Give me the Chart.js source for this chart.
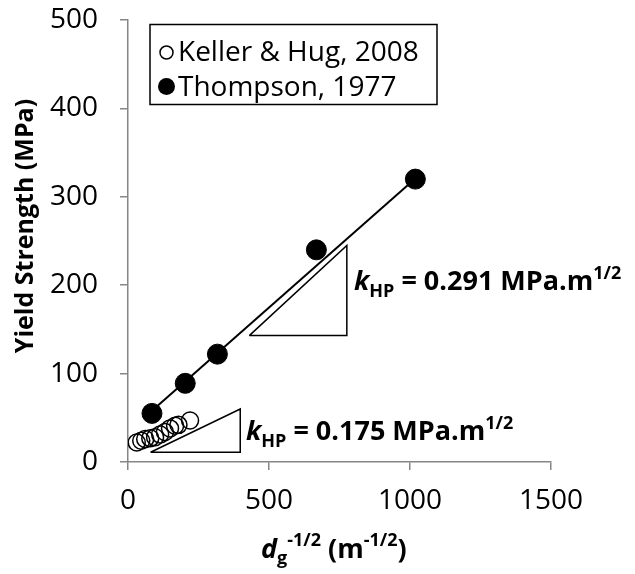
<!DOCTYPE html>
<html><head><meta charset="utf-8">
<script src="https://cdn.jsdelivr.net/npm/chart.js@4.4.1/dist/chart.umd.min.js"></script>
<style>html,body{margin:0;padding:0;background:#fff}#wrap{width:635px;height:574px;position:relative}</style>
</head><body><div id="wrap"><canvas id="c" width="635" height="574"></canvas></div>
<script>
// ---- data ----
const kellerLabel = 'Keller & Hug, 2008';
const kellerX = [31, 47, 61, 79, 96, 114, 131, 149, 167, 179, 220];
const kellerY = [22, 24, 26, 27, 28, 31, 34, 38, 41, 42, 47];
const thompsonLabel = 'Thompson, 1977';
const thompsonX = [85, 203, 317, 668, 1019];
const thompsonY = [55, 89, 122, 240, 320];
const fitX = [85, 1020];
const fitY = [58, 321];
const triUpperX = [430, 776, 776, 430];
const triUpperY = [143, 143, 245, 143];
const triLowerX = [80, 398, 398, 80];
const triLowerY = [11, 11, 60, 11];
const xTicks = [0, 500, 1000, 1500];
const yTicks = [0, 100, 200, 300, 400, 500];
const kUpperText = '0.291';
const kLowerText = '0.175';

const FONT = "'Open Sans', sans-serif";
const pts = (xs, ys) => xs.map((x, i) => ({x, y: ys[i]}));

function drawRich(ctx, x, y, segs) {
  let cx = x;
  for (const s of segs) {
    ctx.font = (s.style || 'bold') + ' ' + s.size + 'px ' + FONT;
    ctx.fillText(s.t, cx, y + (s.dy || 0));
    cx += ctx.measureText(s.t).width;
  }
}

const overlay = {
  id: 'overlay',
  afterDraw(chart) {
    const ctx = chart.ctx;
    ctx.save();
    ctx.fillStyle = '#000';
    ctx.textBaseline = 'alphabetic';
    ctx.textAlign = 'left';
    // legend box
    ctx.strokeStyle = '#000';
    ctx.lineWidth = 1.5;
    ctx.strokeRect(150, 24.5, 287, 80);
    ctx.beginPath(); ctx.arc(166.5, 52.5, 6.5, 0, Math.PI * 2); ctx.lineWidth = 1.5; ctx.stroke();
    ctx.beginPath(); ctx.arc(166.5, 86.5, 8.5, 0, Math.PI * 2); ctx.fill();
    ctx.font = '28px ' + FONT;
    ctx.fillText(chart.data.datasets[1].label, 178, 61);
    ctx.fillText(chart.data.datasets[0].label, 178, 96);
    // annotations
    drawRich(ctx, 354, 290, [
      {t: 'k', style: 'italic bold', size: 27},
      {t: 'HP', size: 18, dy: 7},
      {t: ' = ' + kUpperText + ' MPa.m', size: 27},
      {t: '1/2', size: 18, dy: -11}
    ]);
    drawRich(ctx, 246, 440, [
      {t: 'k', style: 'italic bold', size: 27},
      {t: 'HP', size: 18, dy: 7},
      {t: ' = ' + kLowerText + ' MPa.m', size: 27},
      {t: '1/2', size: 18, dy: -11}
    ]);
    // x title
    drawRich(ctx, 261, 558, [
      {t: 'd', style: 'italic bold', size: 27},
      {t: 'g', size: 18, dy: 6},
      {t: '-1/2', size: 18, dy: -12},
      {t: ' (m', size: 27},
      {t: '-1/2', size: 18, dy: -12},
      {t: ')', size: 27}
    ]);
    // y title
    ctx.translate(33, 226);
    ctx.rotate(-Math.PI / 2);
    ctx.textAlign = 'center';
    ctx.font = 'bold 25px ' + FONT;
    ctx.fillText('Yield Strength (MPa)', 0, 0);
    ctx.restore();
  }
};

new Chart(document.getElementById('c'), {
  type: 'scatter',
  data: {
    datasets: [
      {label: thompsonLabel, data: pts(thompsonX, thompsonY), pointRadius: 10, pointBackgroundColor: '#000', pointBorderColor: '#000', pointBorderWidth: 1, showLine: false},
      {label: kellerLabel, data: pts(kellerX, kellerY), pointRadius: 8.5, pointBackgroundColor: 'rgba(0,0,0,0)', pointBorderColor: '#000', pointBorderWidth: 1.5, showLine: false},
      {label: 'fit', data: pts(fitX, fitY), showLine: true, borderColor: '#000', borderWidth: 2, pointRadius: 0},
      {label: 'tri1', data: pts(triUpperX, triUpperY), showLine: true, borderColor: '#000', borderWidth: 1.5, pointRadius: 0, tension: 0},
      {label: 'tri2', data: pts(triLowerX, triLowerY), showLine: true, borderColor: '#000', borderWidth: 1.5, pointRadius: 0, tension: 0}
    ]
  },
  options: {
    responsive: false,
    animation: false,
    devicePixelRatio: 1,
    layout: {padding: {left: 0, right: 84, top: 20, bottom: 0}},
    plugins: {legend: {display: false}, tooltip: {enabled: false}},
    scales: {
      x: {
        type: 'linear', min: 0, max: 1500,
        afterBuildTicks: s => { s.ticks = xTicks.map(v => ({value: v})); },
        afterFit: s => { s.height = 112; s.paddingLeft = 0; s.paddingRight = 0; },
        ticks: {color: '#000', font: {family: FONT, size: 28}, padding: 14, callback: v => String(v)},
        grid: {display: true, drawOnChartArea: false, drawTicks: true, tickLength: 8, color: '#868686', lineWidth: 1.5},
        border: {display: true, color: '#868686', width: 1.5}
      },
      y: {
        type: 'linear', min: 0, max: 500,
        afterBuildTicks: s => { s.ticks = yTicks.map(v => ({value: v})); },
        afterFit: s => { s.width = 128; s.paddingTop = 0; s.paddingBottom = 0; },
        ticks: {color: '#000', font: {family: FONT, size: 28}, padding: 22, callback: v => String(v)},
        grid: {display: true, drawOnChartArea: false, drawTicks: true, tickLength: 8, color: '#868686', lineWidth: 1.5},
        border: {display: true, color: '#868686', width: 1.5}
      }
    }
  },
  plugins: [overlay]
});
</script></body></html>
